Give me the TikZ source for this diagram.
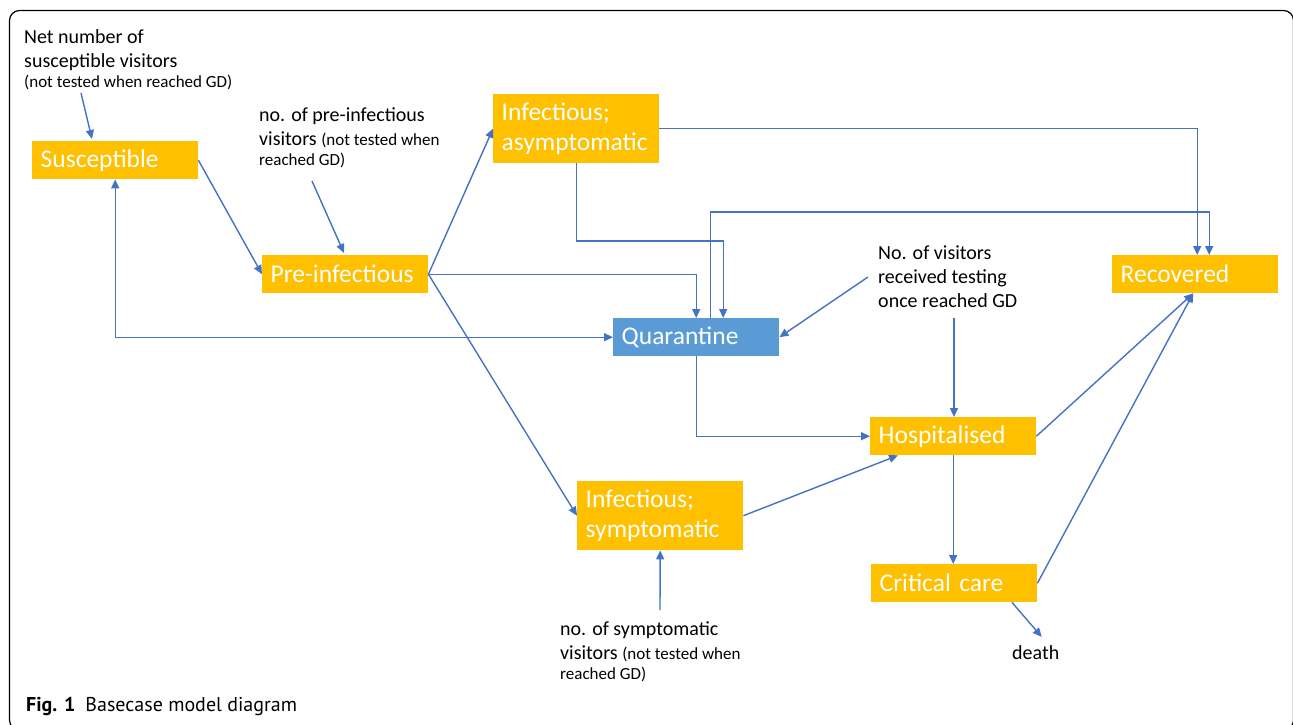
\documentclass[tikz,border=0pt]{standalone}
\usepackage{fontspec}
\setmainfont{Carlito}
\newfontfamily\capfont{PT Sans}
\usetikzlibrary{arrows.meta,calc}
\definecolor{boxorange}{HTML}{FFC000}
\definecolor{qblue}{HTML}{5B9BD5}
\definecolor{linkblue}{HTML}{4472C4}
\newcommand\labsmall{\fontsize{17}{20}\selectfont}
\begin{document}
\begin{tikzpicture}[x=1pt,y=-1pt,
  box/.style={fill=boxorange,text=white,anchor=north west,inner xsep=8.5pt,inner ysep=0pt,
    text width=149pt,align=left,minimum height=38pt,font=\fontsize{25.5}{30}\selectfont},
  box2/.style={box,minimum height=69pt},
  lab/.style={anchor=base west,inner sep=0pt,align=left,font=\fontsize{20}{24}\selectfont,text=black},
  tip/.tip={Triangle[length=9pt,width=8pt]},
  link/.style={draw=linkblue,line width=1.4pt,-tip}
]
\useasboundingbox (0,0) rectangle (1293,724);
\draw[line width=1.2pt, rounded corners=10pt] (9.5,10.5) rectangle (1293.5,730);

% boxes
\node[box] (sus) at (32,141) {Susceptible};
\node[box] (pre) at (262,255) {Pre-infectious};
\node[box2] (asy) at (493,94) {Infectious;\\asymptomatic};
\node[box,fill=qblue] (qua) at (613,318) {Quarantine};
\node[box] (rec) at (1112,255) {Recovered};
\node[box] (hos) at (870,417) {Hospitalised};
\node[box] (cri) at (871,564) {Critical care};
\node[box2] (sym) at (577,481) {Infectious;\\symptomatic};

% labels (anchored at the baseline of their last line)
\node[lab] (netlab) at (24,87) {Net number of\\susceptible visitors\\[-4pt]{\labsmall(not tested when reached GD)}};
\node[lab] (prelab) at (259,165) {no. of pre-infectious\\visitors {\labsmall(not tested when}\\[-4pt]{\labsmall reached GD)}};
\node[lab] (vislab) at (878,307) {No. of visitors\\received testing\\once reached GD};
\node[lab] (symlab) at (560,679) {no. of symptomatic\\visitors {\labsmall(not tested when}\\[-4pt]{\labsmall reached GD)}};
\node[lab] (death) at (1012,659) {death};
\node[anchor=base west,inner sep=0pt,font=\capfont\fontsize{20}{24}\selectfont] (cap) at (26,711)
  {\textbf{Fig. 1}\hspace{0.5em}Basecase model diagram};

% free ends
\coordinate (netend) at (81,93);
\coordinate (preend) at (312,181);
\coordinate (visq) at (868,277);
\coordinate (vish) at (954,318);
\coordinate (symend) at (660,610);

% connectors
\draw[link] (netend) -- ($(sus.north west)+(60,-2)$);
\draw[link] (sus.east) -- (pre.west);
\draw[link] (preend) -- ($(pre.north west)+(82,-2)$);
\draw[link] (pre.east) -- (asy.west);
\draw[link] (pre.east) -| (qua.north);
\draw[link] (pre.east) -- (sym.west);
\draw[link] (asy.south) |- ($(qua.north)+(27,-77)$) -- ($(qua.north)+(27,0)$);
\draw[link] (asy.east) -| ($(rec.north)+(2,0)$);
\draw[link] ($(qua.north)+(14,0)$) |- ($(rec.north)+(14,-43)$) -- ($(rec.north)+(14,0)$);
\draw[link,tip-tip] (sus.south) |- (qua.west);
\draw[link] (visq) -- (qua.east);
\draw[link] (vish) -- (vish |- hos.north);
\draw[link] (qua.south) |- (hos.west);
\draw[link] (sym.east) -- ($(hos.south west)+(28,0)$);
\draw[link] (hos.east) -- ($(rec.south)+(-2,0)$);
\draw[link] (cri.east) -- ($(rec.south)+(-2,0)$);
\draw[link] (hos.south) -- (hos.south |- cri.north);
\draw[link] ($(cri.south west)+(141,0)$) -- ($(death.north)+(6,-8)$);
\draw[link] (symend) -- (sym.south);
\end{tikzpicture}
\end{document}
